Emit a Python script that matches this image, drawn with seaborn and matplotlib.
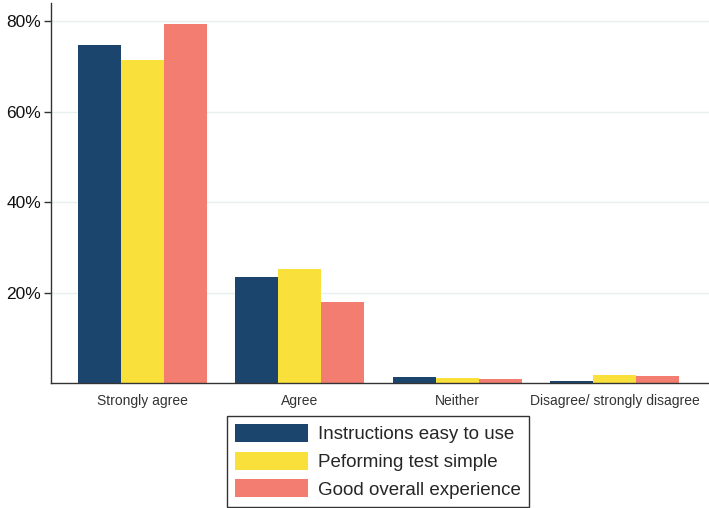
import numpy as np
import pandas as pd
import seaborn as sns
import matplotlib.pyplot as plt

# respostas e series
categorias = ["Strongly agree", "Agree", "Neither", "Disagree/ strongly disagree"]
series = ["Instructions easy to use", "Peforming test simple", "Good overall experience"]
instrucoes = [74.7, 23.4, 1.3, 0.4]
teste = [71.4, 25.2, 1.1, 1.8]
experiencia = [79.3, 17.9, 0.9, 1.6]
cores = ["#1c456e", "#f9e03a", "#f47d72"]
yticks = [20, 40, 60, 80]

linhas = []
for nome, vals in zip(series, [instrucoes, teste, experiencia]):
    for c, v in zip(categorias, vals):
        linhas.append({"cat": c, "serie": nome, "valor": v})
df = pd.DataFrame(linhas)

sns.set_style("white")
plt.rcParams['font.family'] = ['Liberation Sans', 'DejaVu Sans']

fig = plt.figure(figsize=(7.09, 5.08), dpi=100)
ax = fig.add_axes([0.072, 0.246, 0.928, 0.748])

sns.barplot(data=df, x="cat", y="valor", hue="serie", order=categorias,
            hue_order=series, palette=cores, width=0.82, saturation=1,
            linewidth=0, ax=ax)

ax.set_ylim(0, 84)
ax.set_xlim(-0.58, 3.6)
ax.set_yticks(yticks)
ax.set_yticklabels([f"{t}%" for t in yticks], fontsize=12.5, color="#111111")
ax.tick_params(axis="y", length=5, width=1, color="#333333", pad=2, left=True)
ax.tick_params(axis="x", length=0, labelsize=10, labelcolor="#333333", pad=8)
ax.yaxis.grid(True, color="#e6f0f1", lw=1)
ax.set_axisbelow(True)
ax.set_xlabel("")
ax.set_ylabel("")
for s in ["top", "right"]:
    ax.spines[s].set_visible(False)
for s in ["left", "bottom"]:
    ax.spines[s].set_color("#333333")
    ax.spines[s].set_linewidth(1)

ax.legend(loc="upper center", bbox_to_anchor=(0.497, -0.062), ncol=1,
          fontsize=13.5, frameon=True, fancybox=False, edgecolor="black",
          handlelength=3.9, handleheight=1.1, handletextpad=0.55,
          borderpad=0.42, labelspacing=0.45, title=None)
ax.get_legend().get_frame().set_linewidth(1)

fig.savefig("out.png", dpi=100)
